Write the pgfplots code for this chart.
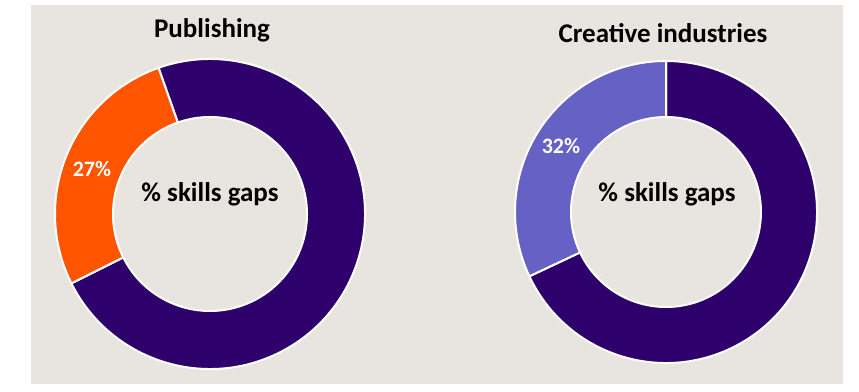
\documentclass[border=0pt]{standalone}
\usepackage{pgfplots}
\pgfplotsset{compat=1.18}
\usepackage{pgfplotstable}
\usepackage{fontspec}
\setmainfont{Carlito}
\definecolor{bg}{HTML}{E8E4E0}
\definecolor{dpurple}{HTML}{2E006B}
\definecolor{orng}{HTML}{FF5500}
\definecolor{lpurple}{HTML}{6561C5}

% share of skills gaps (%), rest of the ring
\pgfplotstableread{
chart       gap  rest
Publishing  27   73
Creative    32   68
}\skills

\begin{document}
\begin{tikzpicture}
\pgfplotstablegetelem{0}{gap}\of\skills \let\gapA\pgfplotsretval
\pgfplotstablegetelem{1}{gap}\of\skills \let\gapB\pgfplotsretval
\begin{axis}[
  width=859pt, height=384pt, scale only axis,
  xmin=0, xmax=859, ymin=0, ymax=384,
  hide axis, clip=false,
]
\path (axis cs:0,0) rectangle (axis cs:859,384);
\fill[bg] (axis cs:31,0) rectangle (axis cs:843,379);

% ---- Publishing ----
\pgfmathsetmacro{\eA}{206.6}
\pgfmathsetmacro{\sA}{\eA-3.6*\gapA}
\pgfmathsetmacro{\fA}{\sA+360}
\begin{scope}[shift={(axis cs:210,170)}]
\filldraw[fill=dpurple, draw=white, line width=2pt]
  (\eA:155pt) arc[start angle=\eA, end angle=\fA, radius=155pt]
  -- (\fA:97pt) arc[start angle=\fA, end angle=\eA, radius=97pt] -- cycle;
\filldraw[fill=orng, draw=white, line width=2pt]
  (\sA:155pt) arc[start angle=\sA, end angle=\eA, radius=155pt]
  -- (\eA:97pt) arc[start angle=\eA, end angle=\sA, radius=97pt] -- cycle;
\end{scope}
\node[anchor=base, font=\fontsize{22}{26}\selectfont\bfseries, text=white] at (axis cs:92,207) {\gapA\%};
\node[anchor=base, font=\fontsize{27}{31}\selectfont\bfseries] at (axis cs:210,182) {\% skills gaps};
\node[anchor=base, font=\fontsize{27}{31}\selectfont\bfseries] at (axis cs:212,346) {Publishing};

% ---- Creative industries ----
\pgfmathsetmacro{\sB}{90}
\pgfmathsetmacro{\eB}{\sB+3.6*\gapB}
\pgfmathsetmacro{\fB}{\sB+360}
\begin{scope}[shift={(axis cs:666,172)}]
\filldraw[fill=dpurple, draw=white, line width=2pt]
  (\eB:151pt) arc[start angle=\eB, end angle=\fB, radius=151pt]
  -- (\fB:95pt) arc[start angle=\fB, end angle=\eB, radius=95pt] -- cycle;
\filldraw[fill=lpurple, draw=white, line width=2pt]
  (\sB:151pt) arc[start angle=\sB, end angle=\eB, radius=151pt]
  -- (\eB:95pt) arc[start angle=\eB, end angle=\sB, radius=95pt] -- cycle;
\end{scope}
\node[anchor=base, font=\fontsize{22}{26}\selectfont\bfseries, text=white] at (axis cs:561,230) {\gapB\%};
\node[anchor=base, font=\fontsize{27}{31}\selectfont\bfseries] at (axis cs:667,182) {\% skills gaps};
\node[anchor=base, font=\fontsize{27}{31}\selectfont\bfseries] at (axis cs:663,341) {Creative industries};
\end{axis}
\end{tikzpicture}
\end{document}
